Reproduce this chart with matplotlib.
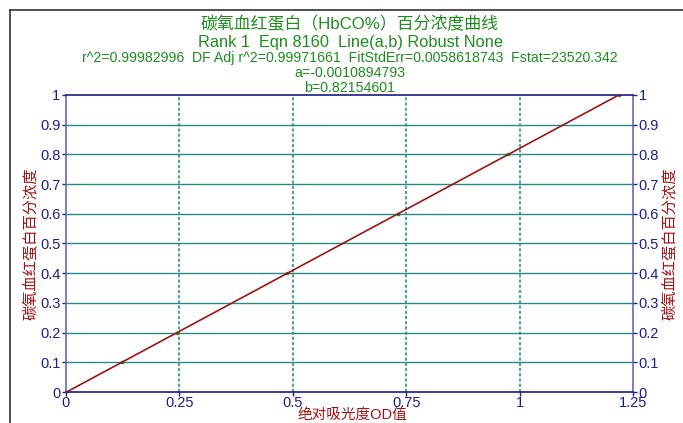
import matplotlib

matplotlib.use("Agg")
import matplotlib.pyplot as plt
import numpy as np

plt.rcParams["font.family"] = ["Liberation Sans", "Noto Sans CJK SC", "DejaVu Sans"]

# data
od_values = [0.0013, 0.1230, 0.2448, 0.4882, 0.7317, 0.9752, 1.2186]
hbco_values = [0.0, 0.1, 0.2, 0.4, 0.6, 0.8, 1.0]
x_ticks = [0, 0.25, 0.5, 0.75, 1, 1.25]
x_tick_labels = ["0", "0.25", "0.5", "0.75", "1", "1.25"]
y_ticks = [0, 0.1, 0.2, 0.3, 0.4, 0.5, 0.6, 0.7, 0.8, 0.9, 1]
y_tick_labels = ["0", "0.1", "0.2", "0.3", "0.4", "0.5", "0.6", "0.7", "0.8", "0.9", "1"]

title_lines = [
    ("碳氧血红蛋白（HbCO%）百分浓度曲线", 12.2),
    ("Rank 1  Eqn 8160  Line(a,b) Robust None", 11.8),
    ("r^2=0.99982996  DF Adj r^2=0.99971661  FitStdErr=0.0058618743  Fstat=23520.342", 10.2),
    ("a=-0.0010894793", 10.2),
    ("b=0.82154601", 10.2),
]
title_y_px = [24, 42, 58, 73, 88]

green = "#1e8c1e"
navy = "#1c1c8c"
red = "#9c1414"
teal = "#2a8a8a"

fig = plt.figure(figsize=(6.83, 4.23), dpi=100)
W, H = 683, 423
ax = fig.add_axes([66 / W, 1 - 392 / H, (633 - 66) / W, (392 - 95) / H])

# outer frame (top and left only visible)
fig.add_artist(plt.Line2D([10 / W, 1], [1 - 10 / H, 1 - 10 / H], color="#333333", lw=1.2))
fig.add_artist(plt.Line2D([10 / W, 10 / W], [0, 1 - 10 / H], color="#333333", lw=1.2))

for y in y_ticks[1:-1]:
    ax.axhline(y, color=teal, lw=1.0, zorder=1)
for x in x_ticks[1:-1]:
    ax.axvline(x, color=teal, lw=1.5, ls=(0, (1.5, 1)), alpha=0.8, zorder=1)

ax.plot(od_values, hbco_values, color=red, lw=1.2, zorder=3)
ax.plot(od_values, hbco_values, ls="none", marker="s", ms=2, color=green, zorder=2)

ax.set_xlim(0, 1.25)
ax.set_ylim(0, 1)
ax.set_xticks(x_ticks)
ax.set_xticklabels(x_tick_labels)
ax.set_yticks(y_ticks)
ax.set_yticklabels(y_tick_labels)
ax.tick_params(axis="both", colors=navy, labelsize=10.5, length=3, width=1, pad=1)
ax.tick_params(axis="x", pad=0)

ax.spines["left"].set_color("#6a6ab8")
ax.spines["right"].set_color("#6a6ab8")
ax.spines["top"].set_color("#1a1a80")
ax.spines["bottom"].set_color("#1a1a80")
for s in ax.spines.values():
    s.set_linewidth(1.2)

ax2 = ax.twinx()
ax2.set_ylim(0, 1)
ax2.set_yticks(y_ticks)
ax2.set_yticklabels(y_tick_labels)
ax2.tick_params(axis="y", colors=navy, labelsize=10.5, length=3, width=1, pad=1)
for s in ax2.spines.values():
    s.set_visible(False)
# right-hand "0" sits just above the 1.25 label, nudge labels to baseline centre
for lab in ax2.get_yticklabels():
    lab.set_va("center_baseline")

ylabel = "碳氧血红蛋白百分浓度"
ax.set_ylabel(ylabel, color=red, fontsize=11, labelpad=1)
ax2.set_ylabel(ylabel, color=red, fontsize=11, labelpad=3)
fig.text(352 / W, 1 - 422 / H, "绝对吸光度OD值", color=red, fontsize=10.5,
         ha="center", va="bottom")

for (txt, fs), ypx in zip(title_lines, title_y_px):
    fig.text(350 / W, 1 - ypx / H, txt, color=green, fontsize=fs, ha="center", va="center")

fig.savefig("out.png", dpi=100)
